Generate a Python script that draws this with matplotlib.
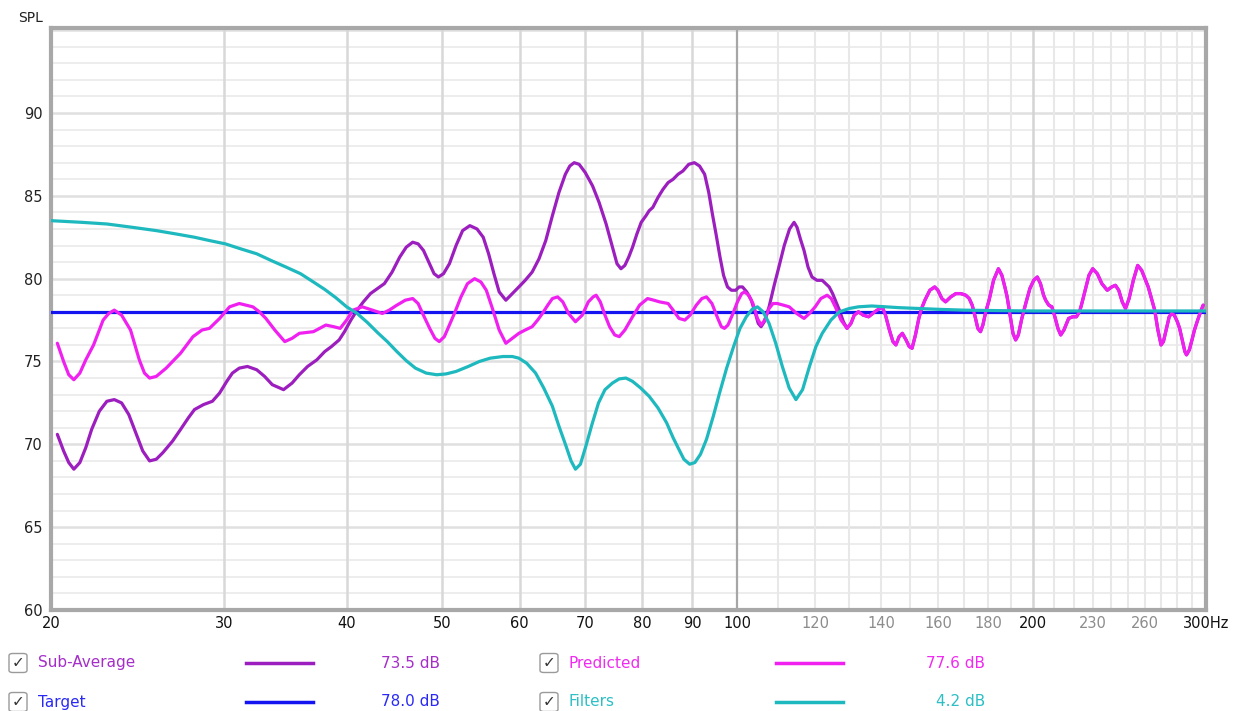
import matplotlib
matplotlib.use("Agg")
import matplotlib.pyplot as plt
from matplotlib.ticker import FixedLocator, NullLocator, FixedFormatter
from matplotlib.lines import Line2D
from matplotlib.patches import FancyBboxPatch

# ---------------- data ----------------
sub_freq = [20.3, 20.6, 20.85, 21.1, 21.4, 21.7, 22.0, 22.4, 22.8, 23.2, 23.6, 24.0, 24.4,
            24.8, 25.2, 25.6, 26.0, 26.6, 27.1, 27.6, 28.0, 28.6, 29.2, 29.7, 30.2, 30.6,
            31.1, 31.7, 32.4, 33.0, 33.6, 34.5, 35.2, 35.8, 36.5, 37.3, 38.0, 38.6, 39.3,
            39.8, 40.4, 41.0, 41.6, 42.3, 43.0, 43.7, 44.5, 45.3, 46.0, 46.7, 47.3, 47.9,
            48.5, 49.1, 49.6, 50.2, 50.9, 51.7, 52.5, 53.4, 54.3, 55.1, 55.8, 56.5, 57.2,
            58.1, 59.0, 59.9, 60.8, 61.8, 62.8, 63.8, 64.8, 65.8, 66.8, 67.5, 68.2, 69.0,
            70.0, 71.2, 72.3, 73.5, 74.6, 75.4, 76.1, 76.8, 77.5, 78.2, 79.0, 79.8, 80.7,
            81.3, 82.0, 83.0, 84.0, 85.0, 86.0, 87.0, 88.0, 89.2, 90.4, 91.5, 92.6, 93.5,
            94.3, 95.1, 96.0, 96.8, 97.7, 98.6, 99.6, 100.4, 101.2, 102.2, 103.3, 104.3,
            105.0, 105.7, 106.5, 107.7, 109.0, 110.2, 111.6, 113.0, 114.2, 115.0, 115.9,
            116.9, 118.0, 119.1, 120.5, 122.0, 123.0, 124.0, 125.0, 126.0, 127.0, 128.2]
sub_spl = [70.6, 69.6, 68.9, 68.5, 68.9, 69.8, 70.9, 72.0, 72.6, 72.7, 72.5, 71.8, 70.7,
           69.6, 69.0, 69.1, 69.5, 70.2, 70.9, 71.6, 72.1, 72.4, 72.6, 73.1, 73.8, 74.3,
           74.6, 74.7, 74.5, 74.1, 73.6, 73.3, 73.7, 74.2, 74.7, 75.1, 75.6, 75.9, 76.3,
           76.8, 77.5, 78.1, 78.6, 79.1, 79.4, 79.7, 80.4, 81.3, 81.9, 82.2, 82.1, 81.7,
           81.0, 80.3, 80.1, 80.3, 80.9, 82.0, 82.9, 83.2, 83.0, 82.5, 81.5, 80.3, 79.2,
           78.7, 79.1, 79.5, 79.9, 80.4, 81.2, 82.3, 83.8, 85.2, 86.3, 86.8, 87.0, 86.9,
           86.4, 85.6, 84.6, 83.3, 81.9, 80.9, 80.6, 80.8, 81.3, 81.9, 82.7, 83.4, 83.8,
           84.1, 84.3, 84.9, 85.4, 85.8, 86.0, 86.3, 86.5, 86.9, 87.0, 86.8, 86.3, 85.2,
           83.9, 82.7, 81.3, 80.2, 79.5, 79.3, 79.3, 79.5, 79.5, 79.2, 78.7, 77.9,
           77.3, 77.1, 77.4, 78.3, 79.6, 80.7, 82.0, 83.0, 83.4, 83.1, 82.4,
           81.7, 80.7, 80.1, 79.9, 79.9, 79.7, 79.5, 79.1, 78.6, 78.1, 77.4]

pred_freq = [20.3, 20.6, 20.85, 21.1, 21.4, 21.7, 22.1, 22.6, 22.9, 23.2, 23.6, 24.1, 24.6,
             24.9, 25.2, 25.6, 26.2, 27.1, 27.9, 28.5, 29.0, 29.7, 30.4, 31.1, 32.1, 32.6,
             33.1, 33.8, 34.6, 35.2, 35.8, 37.0, 38.1, 38.8, 39.4, 40.0, 40.6, 41.5, 42.5,
             43.5, 44.2, 45.0, 45.9, 46.7, 47.3, 47.8, 48.6, 49.2, 49.7, 50.3, 50.9, 51.5,
             52.3, 53.1, 54.0, 54.8, 55.5, 56.3, 57.2, 58.1, 59.0, 59.9, 60.8, 61.8, 62.6,
             63.3, 64.1, 64.8, 65.6, 66.4, 67.3, 68.4, 69.5, 70.5, 71.3, 71.8, 72.5, 73.3,
             74.1, 75.0, 75.8, 76.8, 78.2, 79.5, 81.0, 82.2, 83.3, 85.0, 86.0, 87.2, 88.4,
             89.5, 90.8, 92.0, 93.0, 94.2, 95.5, 96.3, 97.0, 97.8, 98.8, 100.0, 101.0, 101.7,
             102.7, 103.7, 104.8, 105.7, 106.6, 107.7, 108.7, 109.8, 111.4, 112.9, 114.9,
             116.9, 118.4, 120.0, 121.6, 123.4, 124.6, 125.8, 127.5]
pred_spl = [76.1, 75.0, 74.2, 73.9, 74.3, 75.1, 76.0, 77.5, 77.9, 78.1, 77.8, 76.9, 75.1,
            74.3, 74.0, 74.1, 74.6, 75.5, 76.5, 76.9, 77.0, 77.6, 78.3, 78.5, 78.3, 78.0,
            77.6, 76.9, 76.2, 76.4, 76.7, 76.8, 77.2, 77.1, 77.0, 77.5, 78.1, 78.3, 78.1,
            77.9, 78.1, 78.4, 78.7, 78.8, 78.5, 77.9, 77.0, 76.4, 76.2, 76.5, 77.2, 77.9,
            78.9, 79.7, 80.0, 79.8, 79.3, 78.2, 76.9, 76.1, 76.4, 76.7, 76.9, 77.1, 77.5,
            77.9, 78.4, 78.8, 78.9, 78.6, 77.9, 77.4, 77.8, 78.6, 78.9, 79.0, 78.6, 77.8,
            77.1, 76.6, 76.5, 76.9, 77.7, 78.4, 78.8, 78.7, 78.6, 78.5, 78.1, 77.6, 77.5,
            77.8, 78.4, 78.8, 78.9, 78.5, 77.6, 77.1, 77.0, 77.2, 77.8, 78.6, 79.1, 79.2,
            79.0, 78.5, 77.6, 77.2, 77.5, 78.2, 78.5, 78.5, 78.4, 78.3, 77.9,
            77.6, 77.9, 78.3, 78.8, 79.0, 78.8, 78.3, 77.5]

# above ~129 Hz Sub-Average and Predicted coincide
hf_freq = [129.3, 130.5, 131.5, 132.8, 134.3, 136.0, 138.0, 140.4, 141.5, 142.8, 144.0,
           145.0, 146.1, 147.2, 148.5, 149.6, 150.6, 151.8, 153.0, 154.0, 155.2, 157.0,
           158.8, 160.0, 161.5, 162.9, 164.9, 166.9, 168.8, 170.8, 172.2, 173.4, 174.6,
           175.7, 176.8, 177.8, 179.0, 180.4, 182.3, 184.4, 185.9, 187.2, 188.2, 189.6,
           190.8, 192.0, 193.2, 194.8, 196.6, 198.5, 200.3, 202.0, 203.5, 205.0, 206.0,
           207.5, 209.0, 210.5, 212.0, 213.4, 215.0, 217.4, 219.5, 221.4, 223.0, 224.0,
           226.0, 228.0, 230.0, 232.5, 235.0, 238.0, 240.5, 242.6, 244.5, 246.5, 248.4,
           250.5, 253.0, 255.6, 258.0, 260.0, 262.0, 264.0, 266.0, 268.0, 270.0, 271.5,
           273.5, 275.2, 276.8, 278.5, 280.5, 282.0, 284.0, 285.5, 286.6, 288.5, 290.3,
           292.0, 294.2, 296.2, 298.0]
hf_spl = [77.0, 77.3, 77.8, 78.0, 77.8, 77.7, 78.0, 78.3, 77.8, 76.9, 76.2,
          76.0, 76.5, 76.7, 76.3, 75.9, 75.8, 76.6, 77.6, 78.2, 78.7, 79.3,
          79.5, 79.3, 78.8, 78.6, 78.9, 79.1, 79.1, 79.0, 78.8, 78.4, 77.7,
          77.0, 76.8, 77.2, 78.0, 78.7, 79.9, 80.6, 80.2, 79.5, 78.9, 77.7,
          76.7, 76.3, 76.6, 77.6, 78.5, 79.4, 79.9, 80.1, 79.7, 79.0, 78.7,
          78.4, 78.3, 77.7, 77.0, 76.6, 76.9, 77.6, 77.7, 77.7, 78.0, 78.4,
          79.3, 80.2, 80.6, 80.3, 79.7, 79.3, 79.5, 79.6, 79.3, 78.6, 78.2,
          78.8, 79.9, 80.8, 80.5, 80.0, 79.5, 78.8, 78.1, 76.9, 76.0, 76.2,
          77.0, 77.7, 77.9, 77.8, 77.4, 77.0, 76.2, 75.6, 75.4, 75.7, 76.3,
          76.9, 77.5, 78.0, 78.4]

filt_freq = [20.0, 21.5, 22.8, 24.2, 25.6, 26.8, 28.0, 29.0, 30.1, 31.2, 32.4, 33.5, 34.7,
             35.9, 37.0, 38.0, 39.0, 40.0, 41.0, 42.0, 43.0, 44.0, 45.0, 46.0, 47.0, 48.2,
             49.4, 50.5, 51.7, 53.2, 54.6, 56.0, 57.7, 59.0, 59.9, 61.0, 62.3, 63.5, 64.8,
             65.8, 66.9, 67.7, 68.4, 69.2, 70.1, 71.1, 72.2, 73.3, 74.6, 75.8, 77.0, 78.2,
             79.7, 81.3, 83.0, 84.7, 86.0, 87.0, 88.2, 89.4, 90.5, 91.7, 93.0, 94.5, 95.9,
             97.5, 99.1, 100.6, 102.1, 103.5, 104.8, 106.2, 107.7, 109.4, 111.1, 112.9,
             114.7, 116.5, 118.4, 120.2, 122.0, 124.5, 127.0, 130.0, 132.8, 137.0, 141.6,
             146.0, 152.9, 160.0, 170.0, 185.0, 200.0, 300.0]
filt_spl = [83.5, 83.4, 83.3, 83.1, 82.9, 82.7, 82.5, 82.3, 82.1, 81.8, 81.5, 81.1, 80.7,
            80.3, 79.8, 79.35, 78.85, 78.3, 77.9, 77.35, 76.75, 76.2, 75.6, 75.05, 74.6, 74.3,
            74.2, 74.25, 74.4, 74.7, 75.0, 75.2, 75.3, 75.3, 75.2, 74.9, 74.3, 73.4, 72.3,
            71.1, 69.9, 69.0, 68.5, 68.8, 69.9, 71.2, 72.5, 73.3, 73.7, 73.95, 74.0, 73.8,
            73.4, 72.9, 72.2, 71.3, 70.4, 69.8, 69.1, 68.8, 68.9, 69.4, 70.3, 71.7, 73.1,
            74.6, 75.9, 77.0, 77.7, 78.15, 78.3, 78.0, 77.3, 76.1, 74.7, 73.4,
            72.7, 73.3, 74.7, 75.9, 76.7, 77.5, 78.0, 78.2, 78.3, 78.35, 78.3,
            78.25, 78.2, 78.15, 78.1, 78.07, 78.05, 78.05]

target_freq = [20.0, 300.0]
target_spl = [78.0, 78.0]

x_ticks = [20, 30, 40, 50, 60, 70, 80, 90, 100, 120, 140, 160, 180, 200, 230, 260, 300]
x_labels = ["20", "30", "40", "50", "60", "70", "80", "90", "100", "120", "140", "160",
            "180", "200", "230", "260", "300Hz"]
x_label_dark = [True] * 9 + [False] * 4 + [True, False, False, True]
y_ticks = [60, 65, 70, 75, 80, 85, 90]

legend_names = ["Sub-Average", "Target", "Predicted", "Filters"]
legend_values = ["73.5 dB", "78.0 dB", "77.6 dB", "4.2 dB"]

# ---------------- styling ----------------
c_sub = "#9c1ebe"
c_pred = "#f020f0"
c_target = "#1414f0"
c_filt = "#1eb9be"
c_text = {"Sub-Average": "#a52ec8", "Target": "#2a2af5", "Predicted": "#f02af0", "Filters": "#2cbfc4"}
colors = {"Sub-Average": c_sub, "Target": c_target, "Predicted": c_pred, "Filters": c_filt}

plt.rcParams["font.family"] = ["DejaVu Sans"]

fig = plt.figure(figsize=(12.34, 7.11), dpi=100)
ax = fig.add_axes([51 / 1234, 1 - 610 / 711, (1206 - 51) / 1234, (610 - 28) / 711])
ax.set_xscale("log")
ax.set_xlim(20, 300)
ax.set_ylim(60, 95.13)

# grid
for v in range(61, 96):
    if v % 5 == 0:
        ax.axhline(v, color="#e0e0e0", lw=1.8, zorder=0)
    else:
        ax.axhline(v, color="#ededed", lw=1.4, zorder=0)
for f in range(30, 300, 10):
    if f == 100:
        ax.axvline(f, color="#a6a6a6", lw=1.6, zorder=0.5)
    elif f < 100:
        ax.axvline(f, color="#d8d8d8", lw=1.8, zorder=0.2)
    elif f == 200:
        ax.axvline(f, color="#d4d4d4", lw=1.8, zorder=0.2)
    else:
        ax.axvline(f, color="#e8e8e8", lw=1.5, zorder=0.1)

# curves
kw = dict(lw=2.3, solid_joinstyle="round", solid_capstyle="round")
ax.plot(sub_freq + hf_freq, sub_spl + hf_spl, color=c_sub, zorder=3, **kw)
ax.plot(target_freq, target_spl, color=c_target, lw=2.3, zorder=4)
ax.plot(pred_freq + hf_freq, pred_spl + hf_spl, color=c_pred, zorder=5, **kw)
ax.plot(filt_freq, filt_spl, color=c_filt, zorder=6, **kw)

# ticks
ax.xaxis.set_major_locator(FixedLocator(x_ticks))
ax.xaxis.set_major_formatter(FixedFormatter(x_labels))
ax.xaxis.set_minor_locator(NullLocator())
ax.yaxis.set_major_locator(FixedLocator(y_ticks))
ax.yaxis.set_minor_locator(NullLocator())
ax.tick_params(axis="both", length=0, labelsize=10.5)
ax.tick_params(axis="x", pad=4)
ax.tick_params(axis="y", pad=6)
for lab, dark in zip(ax.get_xticklabels(), x_label_dark):
    lab.set_color("#111111" if dark else "#8c8c8c")
for lab in ax.get_yticklabels():
    lab.set_color("#222222")

for s in ax.spines.values():
    s.set_color("#a8a8a8")
    s.set_linewidth(3)

fig.text(18 / 1234, 1 - 18 / 711, "SPL", fontsize=10, color="#222222", va="center", ha="left")

# legend rows
rows = [(663, 9, 38, 246, 313, 440, legend_names[0], legend_values[0]),
        (702, 9, 38, 246, 313, 440, legend_names[1], legend_values[1]),
        (663, 540, 569, 776, 843, 985, legend_names[2], legend_values[2]),
        (702, 540, 569, 776, 843, 985, legend_names[3], legend_values[3])]
W, H = 1234.0, 711.0
for (yc, bx, tx, l0, l1, vx, name, val) in rows:
    fy = 1 - yc / H
    box = FancyBboxPatch((bx / W, fy - 9.5 / H), 18 / W, 19 / H,
                         boxstyle="round,pad=0,rounding_size=0.003",
                         transform=fig.transFigure, facecolor="white",
                         edgecolor="#9a9a9a", lw=1.0)
    fig.patches.append(box)
    fig.text((bx + 9) / W, fy, "\u2713", fontsize=11, color="#333333",
             ha="center", va="center")
    fig.text(tx / W, fy, name, fontsize=11, color=c_text[name], ha="left", va="center")
    fig.lines.append(Line2D([l0 / W, l1 / W], [fy, fy], transform=fig.transFigure,
                            color=colors[name], lw=2.5))
    fig.text(vx / W, fy, val, fontsize=11, color=c_text[name], ha="right", va="center")

fig.savefig("out.png", dpi=100, facecolor="white")
